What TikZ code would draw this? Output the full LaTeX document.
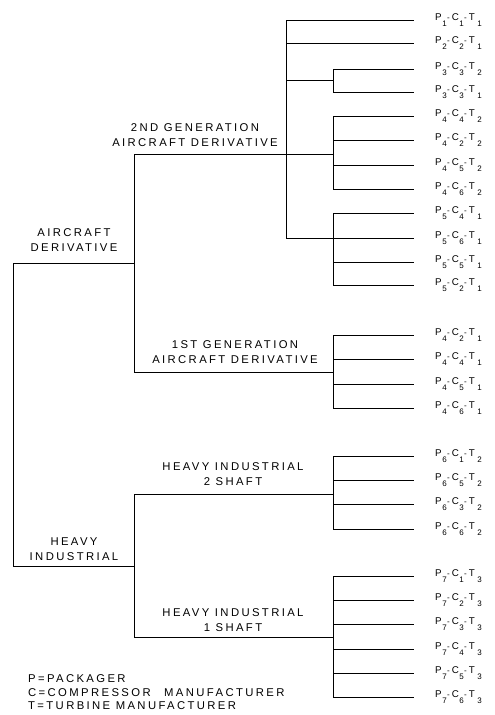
\documentclass[tikz,border=0pt]{standalone}
\usepackage{fontspec}
\setmainfont{Liberation Sans}
\newfontfamily\labfont[LetterSpace=21]{Liberation Sans}
\newfontfamily\leaffont{Liberation Sans}
\newcommand\subn[1]{\kern0.6pt\raisebox{-6pt}{\fontsize{8}{8}\selectfont #1}}
\newcommand\dsh{\kern0.3pt{\fontsize{8}{8}\selectfont -}\kern2pt}
\newcommand\leaf[3]{P\subn{#1}\dsh C\subn{#2}\dsh T\kern2pt\subn{#3}}
\begin{document}
\begin{tikzpicture}[x=1pt,y=-1pt,
  wire/.style={draw=black, line width=0.75pt},
  branchlab/.style={font=\labfont\fontsize{11.3}{15}\selectfont, align=center, inner sep=0pt, anchor=south},
  leaflab/.style={font=\leaffont\fontsize{9.8}{10}\selectfont, anchor=base west, inner sep=0pt},
  legend/.style={font=\labfont\fontsize{11.3}{13.5}\selectfont, align=left, inner sep=0pt, anchor=south west}]
\useasboundingbox (0,0) rectangle (495,715);
\fill[white] (0,0) rectangle (495,715);

% root level
\coordinate (rA) at (13,263);
\coordinate (rH) at (13,566);
\coordinate (AD) at (134,263);
\coordinate (HI) at (134,566);
\draw[wire] (AD) -- (rA) -- (rH) -- (HI);
\node[branchlab] (adlab) at (74,252) {AIRCRAFT\\DERIVATIVE};
\node[branchlab] (hilab) at (74,561) {HEAVY\\INDUSTRIAL};

% second level
\coordinate (G2) at (134,154);
\coordinate (G1) at (134,372);
\coordinate (S2) at (134,494);
\coordinate (S1) at (134,637);
\draw[wire] (G2) -- (G1);
\draw[wire] (S2) -- (S1);
\coordinate (G2b) at (286,154);
\coordinate (G1b) at (333,372);
\coordinate (S2b) at (333,494);
\coordinate (S1b) at (333,637);
\draw[wire] (G2) -- (G2b);
\draw[wire] (G1) -- (G1b);
\draw[wire] (S2) -- (S2b);
\draw[wire] (S1) -- (S1b);
\node[branchlab] (g2lab) at (195,147) {2ND GENERATION\\AIRCRAFT DERIVATIVE};
\node[branchlab] (g1lab) at (235,364) {1ST GENERATION\\AIRCRAFT DERIVATIVE};
\node[branchlab] (s2lab) at (233,486) {HEAVY INDUSTRIAL\\2 SHAFT};
\node[branchlab] (s1lab) at (233,632) {HEAVY INDUSTRIAL\\1 SHAFT};

% 2nd generation subtree
\coordinate (V2t) at (286,20);
\coordinate (V2b) at (286,238);
\draw[wire] (V2t) -- (V2b);
\coordinate (Ba) at (286,80);   \coordinate (Ba2) at (333,80);
\coordinate (Bb) at (286,154);  \coordinate (Bb2) at (333,154);
\coordinate (Bc) at (286,238);  \coordinate (Bc2) at (333,238);
\draw[wire] (Ba) -- (Ba2);
\draw[wire] (Bb) -- (Bb2);
\draw[wire] (Bc) -- (Bc2);
\coordinate (Va1) at (333,69);  \coordinate (Va2) at (333,92);
\coordinate (Vb1) at (333,116); \coordinate (Vb2) at (333,189);
\coordinate (Vc1) at (333,213); \coordinate (Vc2) at (333,285);
\coordinate (Vd1) at (333,335); \coordinate (Vd2) at (333,408);
\coordinate (Ve1) at (333,456); \coordinate (Ve2) at (333,529);
\coordinate (Vf1) at (333,576); \coordinate (Vf2) at (333,697);
\foreach \v in {a,b,c,d,e,f} {\draw[wire] (V\v1) -- (V\v2);}

% leaves
\foreach \y/\px/\p/\c/\t [count=\i] in {
  20/286/1/1/1, 43/286/2/2/1, 69/333/3/3/2, 92/333/3/3/1,
  116/333/4/4/2, 140/333/4/2/2, 165/333/4/5/2, 189/333/4/6/2,
  213/333/5/4/1, 238/333/5/6/1, 262/333/5/5/1, 285/333/5/2/1,
  335/333/4/2/1, 359/333/4/4/1, 384/333/4/5/1, 408/333/4/6/1,
  456/333/6/1/2, 480/333/6/5/2, 504/333/6/3/2, 529/333/6/6/2,
  576/333/7/1/3, 600/333/7/2/3, 624/333/7/3/3, 649/333/7/4/3, 673/333/7/5/3, 697/333/7/6/3}
{
  \coordinate (J\i) at (\px,\y);
  \coordinate (E\i) at (414,\y);
  \draw[wire] (J\i) -- (E\i);
  \node[leaflab] (L\i) at (435,\y+0.5) {\leaf{\p}{\c}{\t}};
}

% legend
\node[legend] (key) at (28,710) {P=PACKAGER\\C=COMPRESSOR\hspace{8pt} MANUFACTURER\\T=TURBINE MANUFACTURER};
\end{tikzpicture}
\end{document}
